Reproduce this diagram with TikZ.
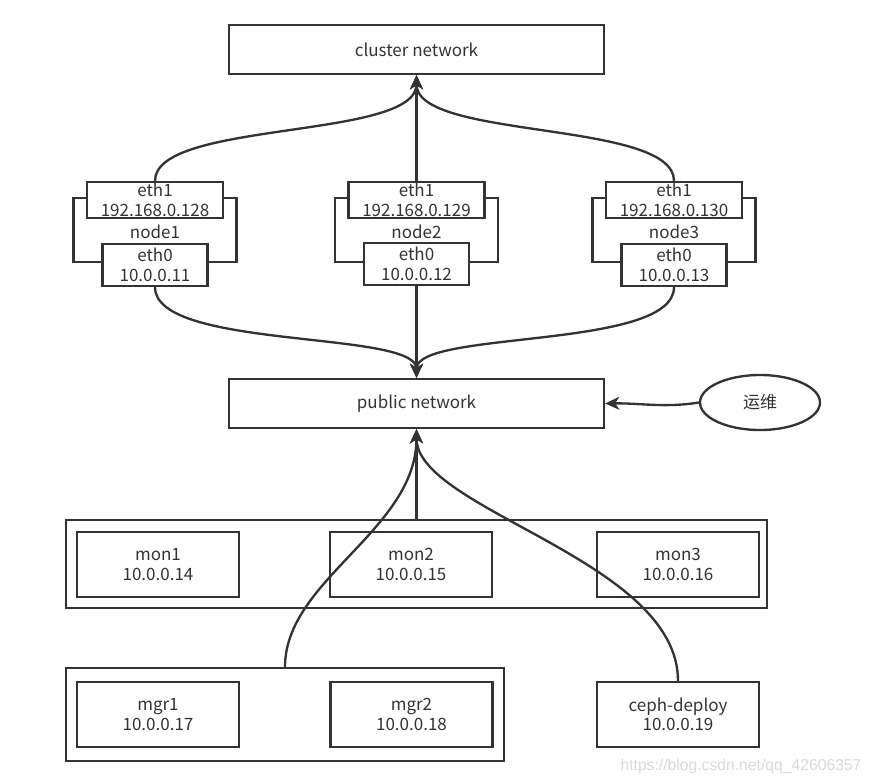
\documentclass[tikz,border=0pt]{standalone}
\usepackage{fontspec}
\setmainfont{Noto Sans CJK SC}
\newfontfamily\filigrane{Liberation Sans}
\usetikzlibrary{arrows.meta,shapes.geometric}
\definecolor{trait}{HTML}{333333}
\begin{document}
\begin{tikzpicture}[x=0.03cm,y=-0.03cm]
	% Styles (MODIFIABLES)
	\tikzstyle{fleche}=[-{Stealth[length=12pt,width=11pt,inset=3.5pt]},line width=2pt,draw=trait]
	\tikzstyle{boite}=[draw=trait,line width=2pt,fill=white,text=trait,align=center,inner sep=0pt,font=\fontsize{14.5}{16.5}\selectfont]
	\tikzstyle{reseau}=[boite,minimum width=375*\px,minimum height=49*\px]
	\tikzstyle{cadre}=[boite,minimum width=163*\px,minimum height=64*\px]
	\tikzstyle{carte1}=[boite,minimum width=136*\px,minimum height=36*\px]
	\tikzstyle{carte0}=[boite,minimum width=105*\px,minimum height=42*\px]
	\tikzstyle{serveur}=[boite,minimum width=162*\px,minimum height=65*\px]
	\tikzstyle{etiquette}=[text=trait,inner sep=0pt,font=\fontsize{14.5}{16.5}\selectfont]
	% Dimensions (MODIFIABLES)
	\def\px{0.03cm}
	\useasboundingbox (0,0) rectangle (873,782);
	% Reseaux
	\node[reseau] (Clu) at (416.5,49.5) {cluster network};
	\node[reseau] (Pub) at (416.5,403.5) {public network};
	\node[boite,ellipse,minimum width=120*\px,minimum height=55*\px] (Ops) at (760,402.5) {运维};
	% Noeuds (node1, node2, node3)
	\node[cadre] (N1) at (155,230) {};
	\node[carte1] (N1a) at (155,200) {eth1\\192.168.0.128};
	\node[etiquette] (N1n) at (155,232) {node1};
	\node[carte0] (N1b) at (155,265) {eth0\\10.0.0.11};
	\node[cadre] (N2) at (416.5,230) {};
	\node[carte1] (N2a) at (416.5,200) {eth1\\192.168.0.129};
	\node[etiquette] (N2n) at (416.5,232) {node2};
	\node[carte0] (N2b) at (416.5,264) {eth0\\10.0.0.12};
	\node[cadre] (N3) at (674,230) {};
	\node[carte1] (N3a) at (674,200) {eth1\\192.168.0.130};
	\node[etiquette] (N3n) at (674,232) {node3};
	\node[carte0] (N3b) at (674,265) {eth0\\10.0.0.13};
	% mon / mgr / ceph-deploy
	\node[boite,minimum width=701*\px,minimum height=88*\px] (Mon) at (416.5,564) {};
	\node[serveur] (Mon1) at (158,564.5) {mon1\\10.0.0.14};
	\node[serveur] (Mon2) at (411,564.5) {mon2\\10.0.0.15};
	\node[serveur] (Mon3) at (678,564.5) {mon3\\10.0.0.16};
	\node[boite,minimum width=438*\px,minimum height=93*\px] (Mgr) at (285,714.5) {};
	\node[serveur] (Mgr1) at (158,714.5) {mgr1\\10.0.0.17};
	\node[serveur] (Mgr2) at (411.5,714.5) {mgr2\\10.0.0.18};
	\node[serveur] (Ceph) at (678,714.5) {ceph-deploy\\10.0.0.19};
	% Arcs
	\draw[fleche] (N1a.north) .. controls (155,120) and (416.5,140) .. (Clu.south);
	\draw[fleche] (N2a.north) -- (Clu.south);
	\draw[fleche] (N3a.north) .. controls (674,120) and (416.5,140) .. (Clu.south);
	\draw[fleche] (N1b.south) .. controls (155,350) and (416.5,330) .. (Pub.north);
	\draw[fleche] (N2b.south) -- (Pub.north);
	\draw[fleche] (N3b.south) .. controls (674,350) and (416.5,330) .. (Pub.north);
	\draw[fleche] (Ops.west) .. controls (665,408) and (640,403) .. (Pub.east);
	\draw[fleche] (Mon.north) -- (Pub.south);
	\draw[fleche] (Mgr.north) .. controls (285,580) and (416.5,530) .. (Pub.south);
	\draw[fleche] (Ceph.north) .. controls (678,560) and (416.5,510) .. (Pub.south);
	% Filigrane
	\node[text=gray!30,inner sep=0pt,font=\filigrane\fontsize{13.4}{15}\selectfont] (Url) at (741,766) {https://blog.csdn.net/qq\_42606357};
\end{tikzpicture}
\end{document}
